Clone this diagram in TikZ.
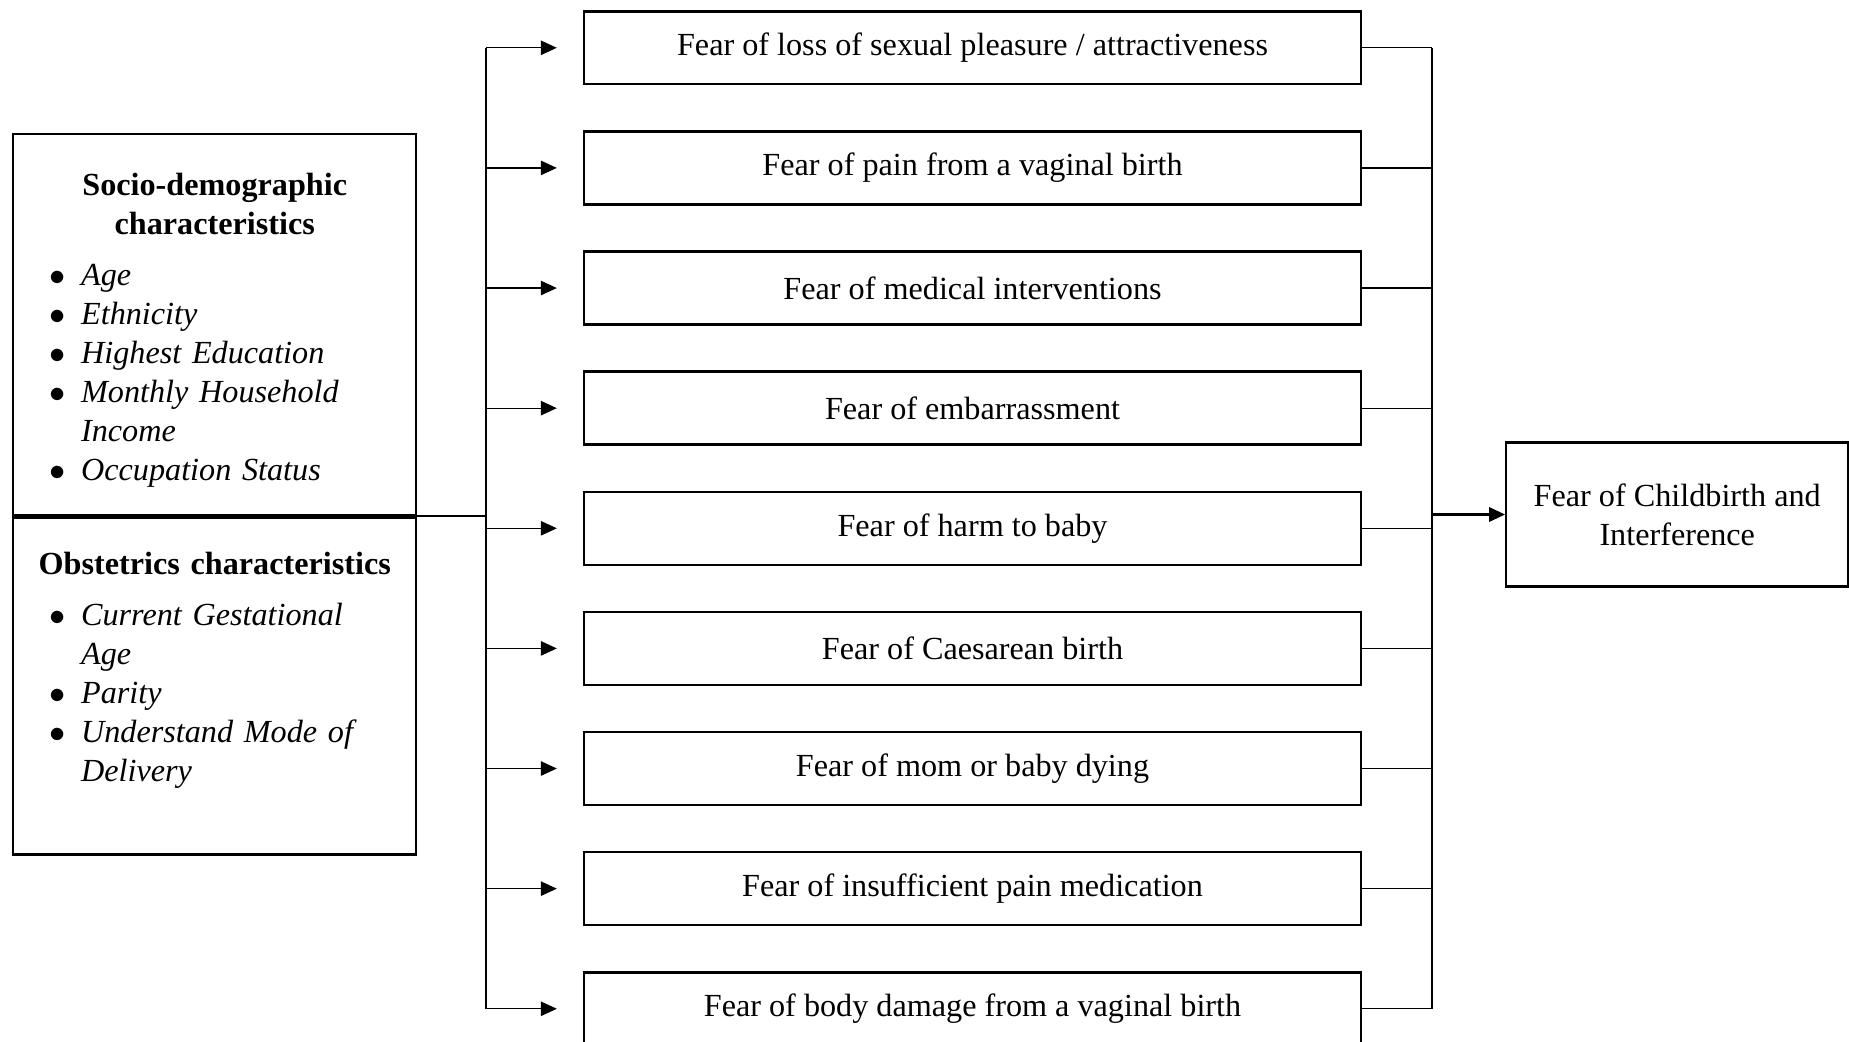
\documentclass[tikz,border=0pt]{standalone}
\usepackage{fontspec}
\setmainfont{Liberation Serif}
\usetikzlibrary{positioning, arrows.meta}
\setlength{\parindent}{0pt}
\tikzset{
  fearbox/.style = {rectangle, draw, line width=0.9pt, align=center,
                    minimum width=10.18cm, minimum height=0.956cm,
                    inner sep=0pt, font=\fontsize{12}{14.5}\selectfont},
  charbox/.style = {rectangle, draw, line width=0.9pt, align=left,
                    text width=4.98cm, inner xsep=0.15cm,
                    font=\fontsize{12}{14.5}\selectfont},
  outbox/.style  = {rectangle, draw, line width=0.9pt, align=center,
                    minimum width=4.48cm, minimum height=1.886cm,
                    font=\fontsize{12}{14.5}\selectfont},
  link/.style    = {line width=0.45pt},
  mainlink/.style = {line width=0.8pt},
  tip/.style     = {-{Triangle[length=0.21cm, width=0.19cm]}},
}
\newcommand{\charitem}[1]{\par\noindent\hangindent=0.74cm\hangafter=1%
  \hspace*{0.33cm}\makebox[0.41cm][l]{$\bullet$}\textit{#1}}

\begin{document}
\begin{tikzpicture}[node distance=0.586cm]
\useasboundingbox (0,0) rectangle (24.222,-13.65);

% Characteristics on the left
\node (socio) [charbox, minimum height=4.99cm, anchor=north west] at (0.157,-1.742) {%
  {\centering\bfseries\rule{0pt}{12.5pt}Socio-demographic\\ characteristics\par}
  \vspace{4.6pt}
  \charitem{Age}
  \charitem{Ethnicity}
  \charitem{Highest Education}
  \charitem{Monthly Household\newline Income}
  \charitem{Occupation Status}\par};
\node (obst) [charbox, minimum height=4.415cm, below=0pt of socio] {%
  {\centering\bfseries Obstetrics characteristics\par}
  \vspace{4.5pt}
  \charitem{Current Gestational\newline Age}
  \charitem{Parity}
  \charitem{Understand Mode of\newline Delivery}\par
  \null};

% Fear domains in the middle
\node (m1) [fearbox] at (12.74,-0.626) {Fear of loss of sexual pleasure / attractiveness};
\node (m2) [fearbox, below=of m1] {Fear of pain from a vaginal birth};
\node (m3) [fearbox, below=of m2] {Fear of medical interventions};
\node (m4) [fearbox, below=of m3] {Fear of embarrassment};
\node (m5) [fearbox, below=of m4] {Fear of harm to baby};
\node (m6) [fearbox, below=of m5] {Fear of Caesarean birth};
\node (m7) [fearbox, below=of m6] {Fear of mom or baby dying};
\node (m8) [fearbox, below=of m7] {Fear of insufficient pain medication};
\node (m9) [fearbox, below=of m8] {Fear of body damage from a vaginal birth};

% Outcome on the right
\node (out) [outbox, anchor=west] at (19.716,-6.74) {Fear of Childbirth and\\ Interference};

% Spines
\coordinate (ls) at (6.367,0);
\coordinate (rs) at (18.759,0);
\draw [link] (m1.west -| ls) -- (m9.west -| ls);
\draw [link] (m1.east -| rs) -- (m9.east -| rs);
\draw [mainlink] (socio.south east) -- (socio.south east -| ls);
\foreach \i in {1,...,9} {
  \draw [link, tip, shorten >=0.34cm] (m\i.west -| ls) -- (m\i.west);
  \draw [link] (m\i.east) -- (m\i.east -| rs);
}
\draw [mainlink, tip] (out.west -| rs) -- (out.west);

\end{tikzpicture}
\end{document}
